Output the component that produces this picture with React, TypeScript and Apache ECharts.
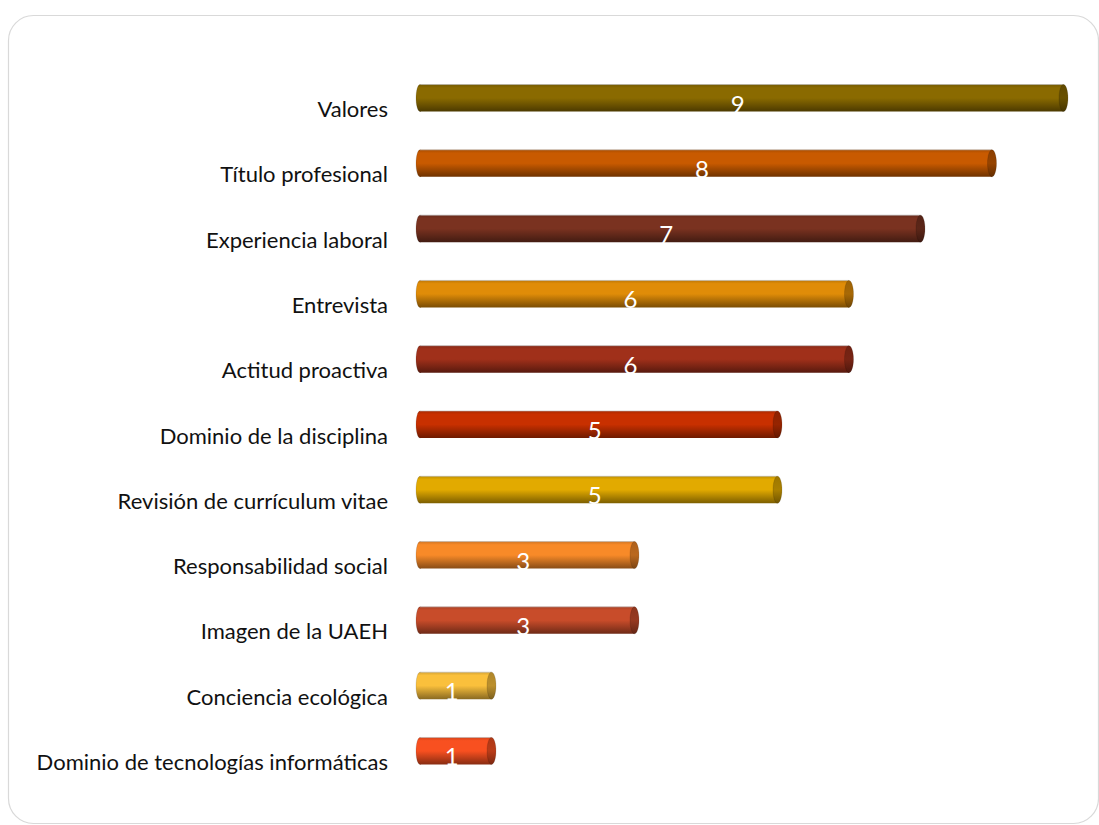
import React, { useEffect, useRef } from "react";
import * as echarts from "echarts";

const categories = [
  "Valores",
  "Título profesional",
  "Experiencia laboral",
  "Entrevista",
  "Actitud proactiva",
  "Dominio de la disciplina",
  "Revisión de currículum vitae",
  "Responsabilidad social",
  "Imagen de la UAEH",
  "Conciencia ecológica",
  "Dominio de tecnologías informáticas",
];
const values = [9, 8, 7, 6, 6, 5, 5, 3, 3, 1, 1];
const colors = [
  "#8A6A00",
  "#C85A00",
  "#7A3220",
  "#E08C08",
  "#A0301A",
  "#C83000",
  "#E2AA00",
  "#F88A28",
  "#C84C2A",
  "#FAC03C",
  "#F85020",
];

function shade(hex: string, f: number): string {
  const n = parseInt(hex.slice(1), 16);
  const r = Math.round(((n >> 16) & 255) * f);
  const g = Math.round(((n >> 8) & 255) * f);
  const b = Math.round((n & 255) * f);
  return `rgb(${Math.min(255, r)},${Math.min(255, g)},${Math.min(255, b)})`;
}

const FONT = "Lato, 'Open Sans', sans-serif";

export default function App() {
  const ref = useRef<HTMLDivElement>(null);
  useEffect(() => {
    document.body.style.margin = "0";
    const chart = echarts.init(ref.current!, undefined, { renderer: "svg" });
    chart.setOption({
      animation: false,
      backgroundColor: "#ffffff",
      graphic: [
        {
          type: "rect",
          shape: { x: 8.5, y: 15.5, width: 1090, height: 808, r: 25 },
          style: { fill: "none", stroke: "#d9d9d9", lineWidth: 1.2 },
          silent: true,
        },
      ],
      grid: { left: 420, right: 35.5, top: 65.4, bottom: 41.4 },
      xAxis: {
        type: "value",
        min: 0,
        max: 9,
        show: false,
      },
      yAxis: {
        type: "category",
        inverse: true,
        data: categories,
        axisLine: { show: false },
        axisTick: { show: false },
        splitLine: { show: false },
        axisLabel: {
          color: "#111111",
          fontSize: 22,
          fontFamily: FONT,
          margin: 32,
          verticalAlign: "top",
          lineHeight: 21,
        },
      },
      series: [
        {
          type: "custom",
          data: values.map((v, i) => [v, i]),
          encode: { x: 0, y: 1 },
          renderItem: (params: any, api: any) => {
            const v = api.value(0);
            const i = api.value(1);
            const s = api.coord([0, i]);
            const e = api.coord([v, i]);
            const cy = s[1];
            const h = 27;
            const base = colors[i];
            const grad = new echarts.graphic.LinearGradient(0, 0, 0, 1, [
              { offset: 0, color: shade(base, 0.85) },
              { offset: 0.12, color: base },
              { offset: 0.5, color: base },
              { offset: 1, color: shade(base, 0.55) },
            ]);
            const capGrad = new echarts.graphic.LinearGradient(0, 0, 0, 1, [
              { offset: 0, color: shade(base, 0.7) },
              { offset: 0.5, color: shade(base, 0.75) },
              { offset: 1, color: shade(base, 0.5) },
            ]);
            return {
              type: "group",
              children: [
                {
                  type: "ellipse",
                  shape: { cx: s[0], cy, rx: 4, ry: h / 2 },
                  style: { fill: grad, stroke: "rgba(0,0,0,0.12)", lineWidth: 1 },
                },
                {
                  type: "rect",
                  shape: { x: s[0], y: cy - h / 2, width: e[0] - s[0], height: h },
                  style: { fill: grad },
                },
                {
                  type: "line",
                  shape: { x1: s[0], y1: cy - h / 2, x2: e[0], y2: cy - h / 2 },
                  style: { stroke: "rgba(180,180,180,0.6)", lineWidth: 1 },
                },
                {
                  type: "ellipse",
                  shape: { cx: e[0], cy, rx: 4.5, ry: h / 2 },
                  style: { fill: capGrad, stroke: "rgba(0,0,0,0.12)", lineWidth: 1 },
                },
                {
                  type: "text",
                  style: {
                    text: String(v),
                    x: (s[0] + e[0]) / 2 - 4,
                    y: cy + 5,
                    align: "center",
                    verticalAlign: "middle",
                    fill: "#ffffff",
                    fontSize: 24,
                    fontFamily: FONT,
                  },
                },
              ],
            };
          },
        },
      ],
    });
    return () => chart.dispose();
  }, []);
  return <div ref={ref} style={{ width: 1099, height: 825 }} />;
}
